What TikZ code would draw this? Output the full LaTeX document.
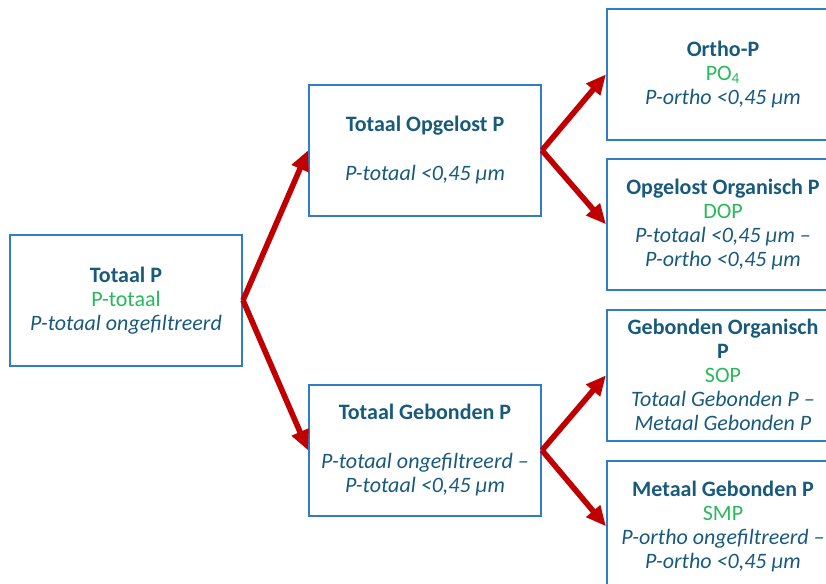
\documentclass[tikz,border=0pt]{standalone}
\usepackage{fontspec}
\setmainfont{Carlito}
\usetikzlibrary{arrows.meta}
\definecolor{tblue}{RGB}{24,90,124}
\definecolor{tgreen}{RGB}{40,185,90}
\definecolor{bblue}{RGB}{46,125,198}
\definecolor{ared}{RGB}{192,0,0}
\tikzset{
  box/.style={draw=bblue, line width=1.5pt, minimum width=174pt, minimum height=98pt,
    align=center, font=\fontsize{16.5}{18}\selectfont, text=tblue, inner sep=0pt, anchor=north west},
  arr/.style={draw=ared, line width=4.2pt, -{Triangle[length=15pt,width=13pt]}},
  gr/.style={text=tgreen}
}
\begin{document}
\begin{tikzpicture}[x=0.75pt,y=-0.75pt]
\useasboundingbox (0,0) rectangle (826,584);
\clip (0,0) rectangle (826,584);
\node[box] (tp) at (9,234) {\textbf{Totaal P}\\\textcolor{tgreen}{P-totaal}\\\textit{P-totaal ongefiltreerd}};
\node[box] (to) at (308,84) {\textbf{Totaal Opgelost P}\\[19pt]\textit{P-totaal <0,45 µm}};
\node[box] (tg) at (308,384) {\textbf{Totaal Gebonden P}\\[19pt]\textit{P-totaal ongefiltreerd –}\\\textit{P-totaal <0,45 µm}};
\node[box] (op) at (606,8) {\textbf{Ortho-P}\\\textcolor{tgreen}{PO\textsubscript{4}}\\\textit{P-ortho <0,45 µm}};
\node[box] (oo) at (606,158) {\textbf{Opgelost Organisch P}\\\textcolor{tgreen}{DOP}\\\textit{P-totaal <0,45 µm –}\\\textit{P-ortho <0,45 µm}};
\node[box] (go) at (606,309) {\textbf{Gebonden Organisch}\\\textbf{P}\\\textcolor{tgreen}{SOP}\\\textit{Totaal Gebonden P –}\\\textit{Metaal Gebonden P}};
\node[box] (mg) at (606,460) {\textbf{Metaal Gebonden P}\\\textcolor{tgreen}{SMP}\\\textit{P-ortho ongefiltreerd –}\\\textit{P-ortho <0,45 µm}};
\draw[arr] (tp.east) -- (to.west);
\draw[arr] (tp.east) -- (tg.west);
\draw[arr] (to.east) -- (op.west);
\draw[arr] (to.east) -- (oo.west);
\draw[arr] (tg.east) -- (go.west);
\draw[arr] (tg.east) -- (mg.west);
\end{tikzpicture}
\end{document}
